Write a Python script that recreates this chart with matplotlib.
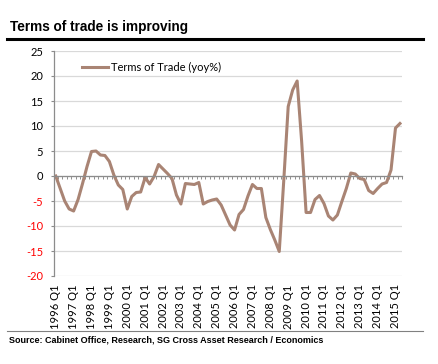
import numpy as np
import matplotlib
matplotlib.use("Agg")
import matplotlib.pyplot as plt
from matplotlib.lines import Line2D

# terms of trade, yoy %, quarterly 1996 Q1 .. 2015 Q2
tot_yoy = [
    0.0, -2.5, -5.0, -6.6, -7.0, -4.7, -1.5, 1.9,
    4.9, 5.0, 4.2, 4.1, 2.9, 0.2, -1.8, -2.7,
    -6.6, -4.1, -3.3, -3.2, -0.3, -1.6, -0.1, 2.3,
    1.4, 0.5, -0.5, -3.8, -5.6, -1.5, -1.6, -1.7,
    -1.3, -5.6, -5.1, -4.8, -4.6, -5.8, -7.8, -9.8,
    -10.8, -7.7, -6.7, -4.0, -1.7, -2.5, -2.5, -8.3,
    -10.7, -12.8, -15.1, -1.0, 13.9, 17.2, 19.0, 7.0,
    -7.3, -7.3, -4.7, -3.9, -5.5, -8.0, -8.8, -7.8,
    -5.1, -2.5, 0.6, 0.4, -0.5, -0.7, -2.9, -3.5,
    -2.5, -1.6, -1.3, 1.2, 9.6, 10.5,
]
year_labels = ["1996 Q1", "1997 Q1", "1998 Q1", "1999 Q1", "2000 Q1",
               "2001 Q1", "2002 Q1", "2003 Q1", "2004 Q1", "2005 Q1",
               "2006 Q1", "2007 Q1", "2008 Q1", "2009 Q1", "2010 Q1",
               "2011 Q1", "2012 Q1", "2013 Q1", "2014 Q1", "2015 Q1"]
y_ticks = [25, 20, 15, 10, 5, 0, -5, -10, -15, -20]

W, H = 438, 364
fig = plt.figure(figsize=(W / 100, H / 100), dpi=100)
ax = fig.add_axes([53.5 / W, 88 / H, 348.7 / W, 225 / H])

line_col = "#a98474"
tick_font = "Lato"

x = np.arange(len(tot_yoy))
ax.plot(x, tot_yoy, color=line_col, lw=2.2, solid_joinstyle="round",
        label="Terms of Trade (yoy%)")

ax.set_xlim(-0.5, len(tot_yoy) - 0.5)
ax.set_ylim(-20, 25)
ax.set_yticks(y_ticks)
ax.set_yticklabels([str(v) for v in y_ticks], family=tick_font, fontsize=8)
for lab, v in zip(ax.get_yticklabels(), y_ticks):
    lab.set_color("red" if v < 0 else "black")
ax.tick_params(axis="y", length=2.5, width=0.8, color="#8c8c8c", pad=5)
ax.grid(axis="y", color="#d9d9d9", lw=0.9)
ax.set_axisbelow(True)

for s in ["top", "right"]:
    ax.spines[s].set_visible(False)
ax.spines["left"].set_color("#8c8c8c")
ax.spines["left"].set_linewidth(0.9)

# category axis crosses at zero, tick marks between categories
ax.spines["bottom"].set_position(("data", 0))
ax.spines["bottom"].set_color("#8c8c8c")
ax.spines["bottom"].set_linewidth(0.9)
ax.set_xticks(np.arange(-0.5, len(tot_yoy), 1.0))
ax.set_xticklabels([])
ax.tick_params(axis="x", direction="out", length=2.5, width=0.7, color="#8c8c8c")

# labels sit at the bottom of the plot area
sec = ax.secondary_xaxis(0)
sec.set_xticks(np.arange(0, len(tot_yoy), 4))
sec.set_xticklabels(year_labels, rotation=90, family=tick_font, fontsize=8)
sec.tick_params(length=0, pad=6)
sec.spines["bottom"].set_visible(False)

ax.legend(loc="upper left", bbox_to_anchor=(82 / W, 1 - 62 / H),
          bbox_transform=fig.transFigure, frameon=False, borderpad=0,
          borderaxespad=0, handlelength=2.3, handletextpad=0.3,
          prop={"family": tick_font, "size": 8})

fig.text(10 / W, 1 - 31 / H, "Terms of trade is improving", family="Liberation Sans",
         fontsize=9.8, fontweight="bold", va="baseline", ha="left")
fig.add_artist(Line2D([7 / W, 423 / W], [1 - 38.5 / H] * 2, color="black", lw=2.2,
                      transform=fig.transFigure))
fig.add_artist(Line2D([7 / W, 423 / W], [1 - 330.5 / H] * 2, color="#808080", lw=0.8,
                      transform=fig.transFigure))
fig.text(9 / W, 1 - 342 / H,
         "Source: Cabinet Office, Research, SG Cross Asset Research / Economics",
         family="Liberation Sans", fontsize=6.5, fontweight="bold", va="baseline", ha="left")

fig.savefig("out.png", dpi=100)
